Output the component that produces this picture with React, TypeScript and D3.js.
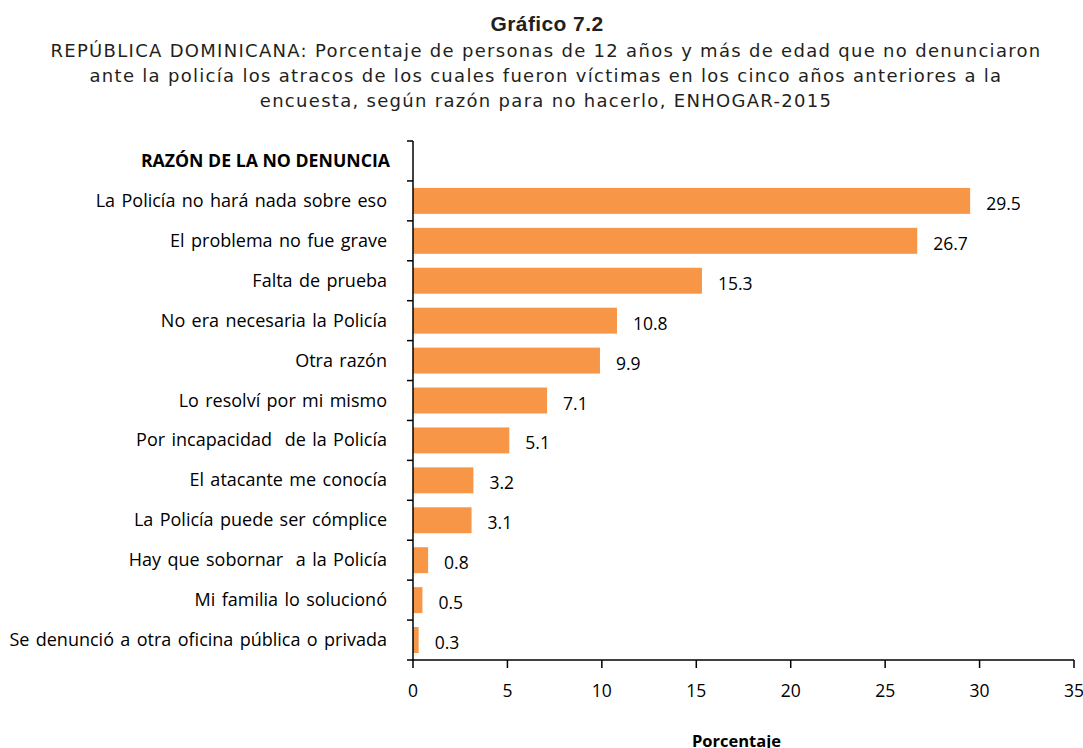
import React from "react";
import * as d3 from "d3";

const categories = [
  "La Policía no hará nada sobre eso",
  "El problema no fue grave",
  "Falta de prueba",
  "No era necesaria la Policía",
  "Otra razón",
  "Lo resolví por mi mismo",
  "Por incapacidad  de la Policía",
  "El atacante me conocía",
  "La Policía puede ser cómplice",
  "Hay que sobornar  a la Policía",
  "Mi familia lo solucionó",
  "Se denunció a otra oficina pública o privada",
];
const values = [29.5, 26.7, 15.3, 10.8, 9.9, 7.1, 5.1, 3.2, 3.1, 0.8, 0.5, 0.3];
const xTicks = [0, 5, 10, 15, 20, 25, 30, 35];
const header = "RAZÓN DE LA NO DENUNCIA";
const titleLines = [
  "REPÚBLICA DOMINICANA: Porcentaje de personas de 12 años y más de edad que no denunciaron",
  "ante la policía los atracos de los cuales fueron víctimas en los cinco años anteriores a la",
  "encuesta, según razón para no hacerlo, ENHOGAR-2015",
];

const W = 1083, H = 748;
const left = 413, right = 1074, top = 141, bottom = 660;
const labelFont = "'Open Sans', Lato, sans-serif";
const titleFont = "'DejaVu Sans', 'Liberation Sans', sans-serif";

export default function App() {
  const x = d3.scaleLinear().domain([0, 35]).range([left, right]);
  const bandDomain = ["__header__", ...categories];
  const y = d3.scaleBand().domain(bandDomain).range([top, bottom]).paddingInner(0.35).paddingOuter(0.175);
  const step = y.step();
  const boundaries = d3.range(bandDomain.length + 1).map((i) => top + i * step);
  return (
    <svg width={W} height={H} style={{ position: "absolute", left: 0, top: 0 }}>
      <rect width={W} height={H} fill="#fff" />
      <text x={547} y={31} textAnchor="middle" fontFamily="'Liberation Sans', Arial, sans-serif" fontWeight="bold" fontSize={21} letterSpacing={0.4} fill="#231f20">Gráfico 7.2</text>
      {titleLines.map((t, i) => (
        <text key={i} x={546} y={57 + i * 25} textAnchor="middle" fontFamily={titleFont} fontSize={18} letterSpacing={1.3} fill="#231f20">{t}</text>
      ))}
      <text x={390} y={y("__header__")! + y.bandwidth() / 2 + 6} textAnchor="end" fontFamily={labelFont} fontWeight="bold" fontSize={17.7} fill="#000">{header}</text>
      {categories.map((c, i) => (
        <g key={c}>
          <rect x={x(0)} y={y(c)} width={x(values[i]) - x(0)} height={y.bandwidth()} fill="#F79646" />
          <text x={387} y={y(c)! + y.bandwidth() / 2 + 6} textAnchor="end" fontFamily={labelFont} fontSize={18} wordSpacing={1.7} fill="#000" style={{ whiteSpace: "pre" }}>{c}</text>
          <text x={x(values[i]) + 16} y={y(c)! + y.bandwidth() / 2 + 9} fontFamily={labelFont} fontSize={17.5} fill="#000">{values[i].toFixed(1)}</text>
        </g>
      ))}
      <line x1={left} x2={left} y1={top} y2={bottom} stroke="#000" strokeWidth={1.5} />
      {boundaries.map((b, i) => (
        <line key={i} x1={left - 6} x2={left} y1={b} y2={b} stroke="#000" strokeWidth={1.5} />
      ))}
      <line x1={left} x2={right} y1={bottom} y2={bottom} stroke="#000" strokeWidth={1.5} />
      {xTicks.map((t) => (
        <g key={t}>
          <line x1={x(t)} x2={x(t)} y1={bottom} y2={bottom + 8} stroke="#000" strokeWidth={1.5} />
          <text x={x(t)} y={697} textAnchor="middle" fontFamily={labelFont} fontSize={17.5} fill="#000">{t}</text>
        </g>
      ))}
      <text x={x(17.5) - 7} y={747} textAnchor="middle" fontFamily={labelFont} fontWeight="bold" fontSize={16.5} fill="#000">Porcentaje</text>
    </svg>
  );
}
